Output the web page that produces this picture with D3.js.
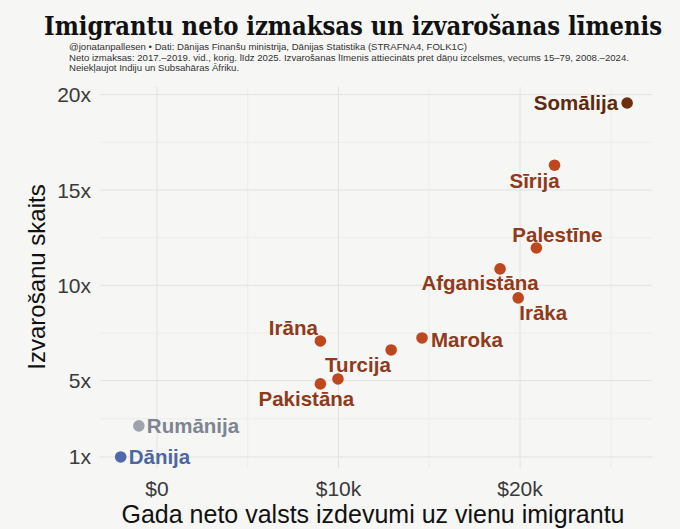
<!DOCTYPE html>
<html>
<head>
<meta charset="utf-8">
<script src="https://cdn.jsdelivr.net/npm/d3@7"></script>
<style>
  body { margin: 0; background: #f6f6f4; }
  svg { display: block; }
</style>
</head>
<body>
<svg id="chart" width="680" height="529"></svg>
<script>
// data
const countries = ['Somālija', 'Sīrija', 'Palestīne', 'Afganistāna', 'Irāka', 'Maroka', 'Irāna', '', 'Turcija', 'Pakistāna', 'Rumānija', 'Dānija'];
const netCost = [25900, 21900, 20900, 18900, 19900, 14600, 9000, 12900, 9970, 9000, -1000, -2000];
const crimeRate = [19.56, 16.3, 11.96, 10.86, 9.34, 7.24, 7.08, 6.61, 5.09, 4.83, 2.63, 1.0];
const groups = ['som', 'mena', 'mena', 'mena', 'mena', 'mena', 'mena', 'mena', 'mena', 'mena', 'eu', 'dk'];

const xTicks = [0, 10000, 20000];
const xTickLabels = ['$0', '$10k', '$20k'];
const xMinor = [5000, 15000, 25000];
const yTicks = [1, 5, 10, 15, 20];
const yTickLabels = ['1x', '5x', '10x', '15x', '20x'];
const yMinor = [3, 7.5, 12.5, 17.5];

const title = 'Imigrantu neto izmaksas un izvarošanas līmenis';
const subtitle = [
  '@jonatanpallesen • Dati: Dānijas Finanšu ministrija, Dānijas Statistika (STRAFNA4, FOLK1C)',
  'Neto izmaksas: 2017.–2019. vid., korig. līdz 2025. Izvarošanas līmenis attiecināts pret dāņu izcelsmes, vecums 15–79, 2008.–2024.',
  'Neiekļaujot Indiju un Subsahāras Āfriku.'
];
const xTitle = 'Gada neto valsts izdevumi uz vienu imigrantu';
const yTitle = 'Izvarošanu skaits';

// label nudges (px) relative to the dot, ggrepel-ish
const labelNudge = [
  { dx: -9, dy: 0, anchor: 'end' },
  { dx: -20, dy: 15, anchor: 'middle' },
  { dx: 21, dy: -13, anchor: 'middle' },
  { dx: -20, dy: 14, anchor: 'middle' },
  { dx: 25, dy: 15, anchor: 'middle' },
  { dx: 9, dy: 2, anchor: 'start' },
  { dx: -27, dy: -13, anchor: 'middle' },
  { dx: 0, dy: 0, anchor: 'middle' },
  { dx: 20, dy: -14, anchor: 'middle' },
  { dx: -14, dy: 15, anchor: 'middle' },
  { dx: 8, dy: 0, anchor: 'start' },
  { dx: 8, dy: 0, anchor: 'start' }
];

const dotColor = d3.scaleOrdinal()
  .domain(['som', 'mena', 'eu', 'dk'])
  .range(['#6e2e10', '#bd4820', '#9ea3ad', '#4d69aa']);
const labelColor = d3.scaleOrdinal()
  .domain(['som', 'mena', 'eu', 'dk'])
  .range(['#5c2a10', '#8f3b1b', '#7d8492', '#4c66a3']);

const rows = countries.map((name, i) => ({
  name,
  x: netCost[i],
  y: crimeRate[i],
  group: groups[i],
  nudge: labelNudge[i]
}));

const panel = { left: 100, right: 652, top: 87, bottom: 468 };

const x = d3.scaleLinear().domain([-3140, 27270]).range([panel.left, panel.right]);
const y = d3.scaleLinear().domain([0.42, 20.4]).range([panel.bottom, panel.top]);

const svg = d3.select('#chart');
const sans = '"Liberation Sans", Arial, sans-serif';

// title + subtitle
svg.append('text')
  .attr('x', 44)
  .attr('y', 35)
  .attr('font-family', '"DejaVu Serif Condensed", "DejaVu Serif", serif')
  .attr('font-stretch', 'condensed')
  .attr('font-weight', 'bold')
  .attr('font-size', 26)
  .attr('fill', '#111')
  .attr('textLength', 618)
  .attr('lengthAdjust', 'spacingAndGlyphs')
  .text(title);

svg.append('g')
  .selectAll('text')
  .data(subtitle)
  .join('text')
  .attr('x', 69)
  .attr('y', (d, i) => 50 + i * 10.5)
  .attr('font-family', sans)
  .attr('font-size', 9.6)
  .attr('fill', '#333')
  .text(d => d);

// grid
const grid = svg.append('g').attr('stroke-width', 1);
grid.selectAll('line.xminor')
  .data(xMinor)
  .join('line')
  .attr('x1', d => x(d)).attr('x2', d => x(d))
  .attr('y1', panel.top).attr('y2', panel.bottom)
  .attr('stroke', '#ededeb');
grid.selectAll('line.yminor')
  .data(yMinor)
  .join('line')
  .attr('x1', panel.left).attr('x2', panel.right)
  .attr('y1', d => y(d)).attr('y2', d => y(d))
  .attr('stroke', '#ededeb');
grid.selectAll('line.xmajor')
  .data(xTicks)
  .join('line')
  .attr('x1', d => x(d)).attr('x2', d => x(d))
  .attr('y1', panel.top).attr('y2', panel.bottom)
  .attr('stroke', '#e2e2e0');
grid.selectAll('line.ymajor')
  .data(yTicks)
  .join('line')
  .attr('x1', panel.left).attr('x2', panel.right)
  .attr('y1', d => y(d)).attr('y2', d => y(d))
  .attr('stroke', '#e2e2e0');

// tick labels
svg.append('g')
  .selectAll('text')
  .data(yTicks)
  .join('text')
  .attr('x', 91)
  .attr('y', d => y(d))
  .attr('dy', '0.36em')
  .attr('text-anchor', 'end')
  .attr('font-family', sans)
  .attr('font-size', 21)
  .attr('fill', '#3a3a3a')
  .text((d, i) => yTickLabels[i]);

svg.append('g')
  .selectAll('text')
  .data(xTicks)
  .join('text')
  .attr('x', d => x(d))
  .attr('y', 496)
  .attr('text-anchor', 'middle')
  .attr('font-family', sans)
  .attr('font-size', 21)
  .attr('fill', '#3a3a3a')
  .text((d, i) => xTickLabels[i]);

// axis titles
svg.append('text')
  .attr('x', 373)
  .attr('y', 523)
  .attr('text-anchor', 'middle')
  .attr('font-family', sans)
  .attr('font-size', 25)
  .attr('fill', '#111')
  .text(xTitle);

svg.append('text')
  .attr('transform', 'translate(45,277) rotate(-90)')
  .attr('text-anchor', 'middle')
  .attr('font-family', sans)
  .attr('font-size', 24)
  .attr('fill', '#111')
  .text(yTitle);

// points
const pts = svg.append('g');
pts.selectAll('circle')
  .data(rows)
  .join('circle')
  .attr('cx', d => x(d.x))
  .attr('cy', d => y(d.y))
  .attr('r', 5.8)
  .attr('fill', d => dotColor(d.group));

pts.selectAll('text')
  .data(rows.filter(d => d.name))
  .join('text')
  .attr('x', d => x(d.x) + d.nudge.dx)
  .attr('y', d => y(d.y) + d.nudge.dy)
  .attr('dy', '0.36em')
  .attr('text-anchor', d => d.nudge.anchor)
  .attr('font-family', sans)
  .attr('font-weight', 'bold')
  .attr('font-size', 20.5)
  .attr('fill', d => labelColor(d.group))
  .text(d => d.name);
</script>
</body>
</html>
